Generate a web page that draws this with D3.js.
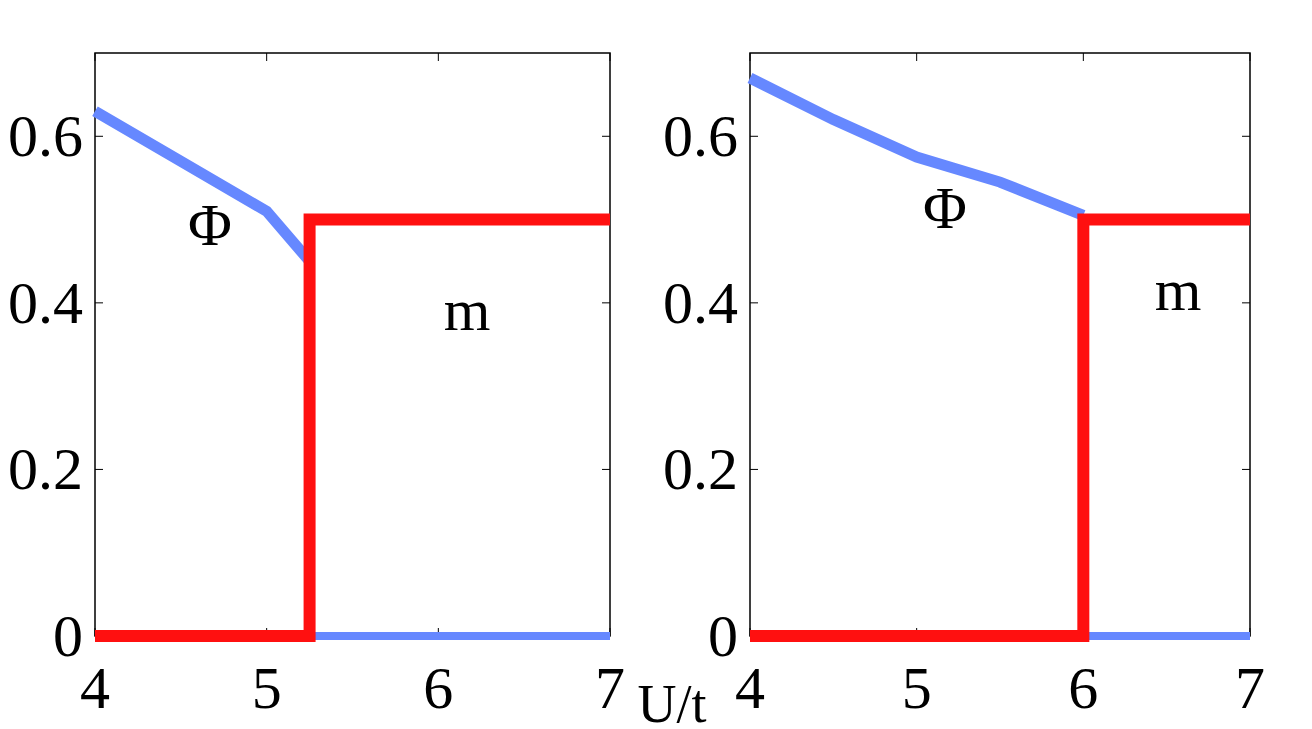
<!DOCTYPE html>
<html><head><meta charset="utf-8">
<script src="https://cdn.jsdelivr.net/npm/d3@7"></script>
<style>body{margin:0;background:#fff}</style>
</head><body>
<script>
// data
var xTicks = [4, 5, 6, 7]
var yTicks = [0, 0.2, 0.4, 0.6]
var phiLeft = [[4, 0.63], [4.5, 0.57], [5, 0.51], [5.25, 0.45]]
var phiLeftZero = [[5.25, 0], [7, 0]]
var mLeft = [[4, 0], [5.25, 0], [5.25, 0.5], [7, 0.5]]
var phiRight = [[4, 0.67], [4.5, 0.62], [5, 0.575], [5.5, 0.545], [6, 0.505]]
var phiRightZero = [[6, 0], [7, 0]]
var mRight = [[4, 0], [6, 0], [6, 0.5], [7, 0.5]]

var svg = d3.select("body").append("svg").attr("width", 1312).attr("height", 729)
var font = "Liberation Serif, DejaVu Serif, serif"

function panel(left, right, phi, phiZero, m, phiLab, mLab) {
  var x = d3.scaleLinear().domain([4, 7]).range([left, right])
  var y = d3.scaleLinear().domain([0, 0.7]).range([636, 53])
  var g = svg.append("g")
  var line = d3.line().x(d => x(d[0])).y(d => y(d[1]))

  g.append("rect").attr("x", left).attr("y", y(0.7))
    .attr("width", right - left).attr("height", y(0) - y(0.7))
    .attr("fill", "none").attr("stroke", "#000").attr("stroke-width", 1.5)

  // inward ticks on all four sides
  xTicks.forEach(function(t) {
    g.append("line").attr("x1", x(t)).attr("x2", x(t)).attr("y1", y(0)).attr("y2", y(0) - 8).attr("stroke", "#000")
    g.append("line").attr("x1", x(t)).attr("x2", x(t)).attr("y1", y(0.7)).attr("y2", y(0.7) + 8).attr("stroke", "#000")
    g.append("text").attr("x", x(t)).attr("y", 708).attr("text-anchor", "middle")
      .style("font-family", font).style("font-size", "60px").text(t)
  })
  yTicks.forEach(function(t) {
    g.append("line").attr("x1", left).attr("x2", left + 8).attr("y1", y(t)).attr("y2", y(t)).attr("stroke", "#000")
    g.append("line").attr("x1", right).attr("x2", right - 8).attr("y1", y(t)).attr("y2", y(t)).attr("stroke", "#000")
    g.append("text").attr("x", left - 12).attr("y", y(t) + 20).attr("text-anchor", "end")
      .style("font-family", font).style("font-size", "60px").text(t)
  })

  g.append("path").attr("d", line(phi)).attr("fill", "none").attr("stroke", "#6688ff").attr("stroke-width", 11)
  g.append("path").attr("d", line(phiZero)).attr("fill", "none").attr("stroke", "#6688ff").attr("stroke-width", 8)
  g.append("path").attr("d", line(m)).attr("fill", "none").attr("stroke", "#ff1010").attr("stroke-width", 12)

  g.append("text").attr("x", phiLab[0]).attr("y", phiLab[1]).attr("text-anchor", "middle")
    .style("font-family", font).style("font-size", "60px").text("Φ")
  g.append("text").attr("x", mLab[0]).attr("y", mLab[1]).attr("text-anchor", "middle")
    .style("font-family", font).style("font-size", "60px").text("m")
}

panel(95, 610, phiLeft, phiLeftZero, mLeft, [210, 245], [467, 330])
panel(750, 1250, phiRight, phiRightZero, mRight, [945, 228], [1178, 310])

svg.append("text").attr("x", 672).attr("y", 722).attr("text-anchor", "middle")
  .style("font-family", font).style("font-size", "54px").text("U/t")
</script>
</body></html>
